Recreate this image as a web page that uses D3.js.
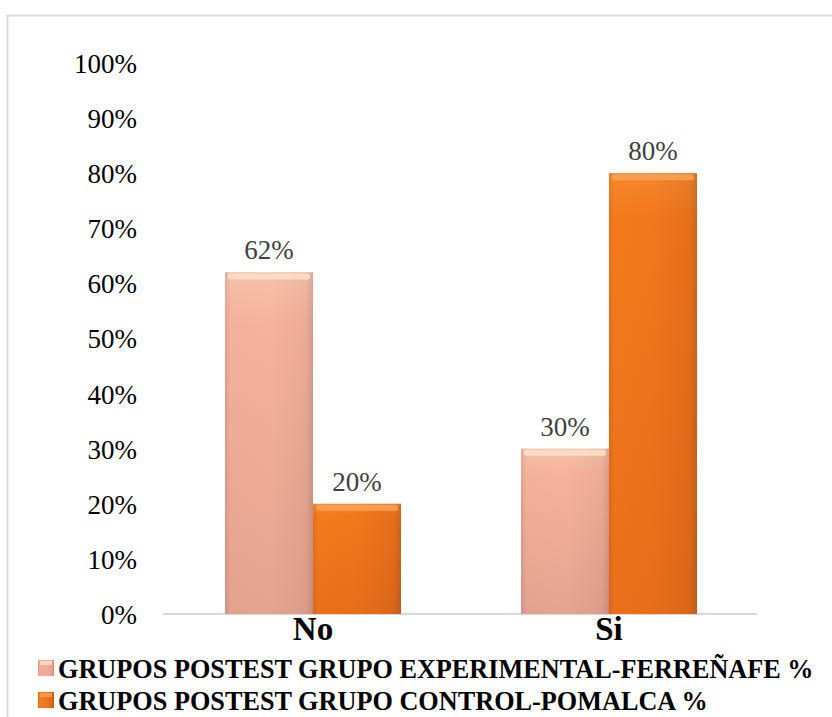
<!DOCTYPE html>
<html><head><meta charset="utf-8">
<script src="https://cdn.jsdelivr.net/npm/d3@7"></script>
<style>body{margin:0;background:#fff}svg{display:block}</style>
</head><body>
<svg id="c" width="832" height="717"></svg>
<script>
const categories = ["No", "Si"];
const seriesNames = ["GRUPOS POSTEST GRUPO EXPERIMENTAL-FERREÑAFE %", "GRUPOS POSTEST GRUPO CONTROL-POMALCA %"];
const experimental = [0.62, 0.30];
const control = [0.20, 0.80];
const yTicks = [0, 0.1, 0.2, 0.3, 0.4, 0.5, 0.6, 0.7, 0.8, 0.9, 1.0];

const FONT = "'Liberation Serif', 'Times New Roman', Times, 'DejaVu Serif', serif";
const svg = d3.select("#c");
const defs = svg.append("defs");
function grad(id, stops, x2, y2) {
  const g = defs.append("linearGradient").attr("id", id).attr("x1", 0).attr("y1", 0).attr("x2", x2).attr("y2", y2);
  stops.forEach(s => g.append("stop").attr("offset", s[0]).attr("stop-color", s[1]));
}
grad("gPink", [[0, "#c99080"], [0.06, "#f2ab95"], [0.5, "#f4ae98"], [0.92, "#e3a08b"], [1, "#b8806f"]], 1, 0);
grad("gOrange", [[0, "#d8661a"], [0.06, "#f57a1c"], [0.5, "#f0751b"], [0.92, "#d96717"], [1, "#a8521a"]], 1, 0);
grad("gPinkV", [[0, "#fbd9c0"], [0.15, "#f7b9a0"], [1, "#d09886"]], 0, 1);
grad("gOrangeV", [[0, "#f79a40"], [0.1, "#f47a1d"], [1, "#d9651a"]], 0, 1);

// frame
svg.append("rect").attr("x", 7.5).attr("y", 15.5).attr("width", 840).attr("height", 720)
  .attr("fill", "none").attr("stroke", "#d9d9d9").attr("stroke-width", 2);

const x0 = 165, x1 = 757, yBase = 614, yTop = 63;
const y = d3.scaleLinear().domain([0, 1]).range([yBase, yTop]);
const xb = d3.scaleBand().domain(categories).range([x0, x1]).paddingInner(120/296).paddingOuter(60/296);
const xs = d3.scaleBand().domain([0, 1]).range([0, xb.bandwidth()]);

// y labels
const yAxis = d3.axisLeft(y).tickValues(yTicks).tickFormat(d3.format(".0%")).tickSize(0).tickPadding(0);
const ga = svg.append("g").attr("transform", "translate(137,0)").call(yAxis);
ga.select(".domain").remove();
ga.attr("font-family", FONT);
ga.selectAll("text").style("font-family", FONT).attr("font-size", 27).attr("fill", "#000").attr("dy", "0.35em");

// baseline
svg.append("line").attr("x1", x0 - 2).attr("x2", x1).attr("y1", yBase).attr("y2", yBase)
  .attr("stroke", "#d9d9d9").attr("stroke-width", 2);

const series = [experimental, control];
const fills = [["url(#gPink)", "url(#gPinkV)", "#fbe3cc"], ["url(#gOrange)", "url(#gOrangeV)", "#f9a45a"]];
series.forEach((vals, si) => {
  categories.forEach((c, ci) => {
    const bx = xb(c) + xs(si), bw = xs.bandwidth(), by = y(vals[ci]), bh = yBase - y(vals[ci]);
    const g = svg.append("g");
    g.append("rect").attr("x", bx).attr("y", by).attr("width", bw).attr("height", bh).attr("fill", fills[si][0]);
    g.append("rect").attr("x", bx).attr("y", by).attr("width", bw).attr("height", bh).attr("fill", fills[si][1]).attr("opacity", 0.45);
    g.append("rect").attr("x", bx + 3).attr("y", by + 1).attr("width", bw - 6).attr("height", 6).attr("fill", fills[si][2]).attr("opacity", 0.8).attr("rx", 2);
    svg.append("text").attr("x", bx + bw / 2).attr("y", by - 13).attr("text-anchor", "middle")
      .style("font-family", FONT).attr("font-size", 27).attr("fill", "#404040")
      .text(d3.format(".0%")(vals[ci]));
  });
});

// x labels
categories.forEach(c => {
  svg.append("text").attr("x", xb(c) + xb.bandwidth() / 2).attr("y", 640).attr("text-anchor", "middle")
    .style("font-family", FONT).attr("font-weight", "bold").attr("font-size", 33).attr("fill", "#000").text(c);
});

// legend
const legY = [678, 710], legW = [756, 650];
seriesNames.forEach((n, i) => {
  svg.append("rect").attr("x", 38).attr("y", legY[i] - 18).attr("width", 16).attr("height", 16)
    .attr("fill", i === 0 ? "url(#gPink)" : "url(#gOrange)");
  svg.append("rect").attr("x", 40).attr("y", legY[i] - 17).attr("width", 12).attr("height", 4)
    .attr("fill", i === 0 ? "#fbe3cc" : "#f9a45a").attr("opacity", 0.8);
  const t = svg.append("text").attr("x", 0).attr("y", 0)
    .style("font-family", FONT).attr("font-weight", "bold").attr("font-size", 28).attr("fill", "#000").text(n);
  const w = t.node().getComputedTextLength();
  t.attr("transform", `translate(58,${legY[i]}) scale(${legW[i] / w},1)`);
});
</script>
</body></html>
